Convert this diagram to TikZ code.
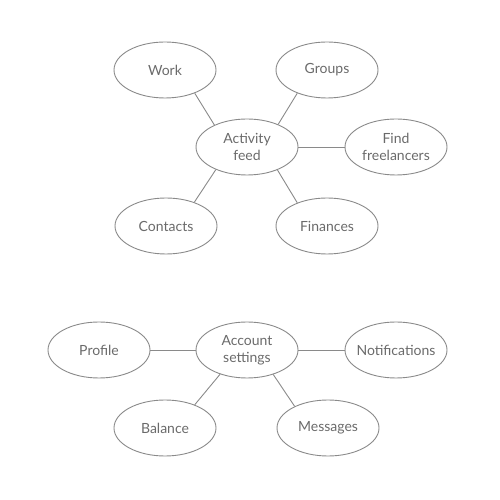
\documentclass[tikz,border=0pt]{standalone}
\usepackage{fontspec}
\setmainfont{Lato}
\usetikzlibrary{shapes.geometric}
\definecolor{edgegray}{HTML}{8A8A8A}
\definecolor{textgray}{HTML}{6A6A6A}
\tikzset{
    bubble/.style={ellipse, draw=edgegray, line width=0.9pt, minimum width=102pt,
        minimum height=56pt, inner xsep=-5pt, inner ysep=0pt, align=center,
        text=textgray, font=\fontsize{14}{17}\selectfont},
    link/.style={draw=edgegray, line width=0.9pt}
}
\begin{document}
\begin{tikzpicture}[x=1pt,y=1pt]
    \useasboundingbox (0,0) rectangle (500,500);

    \node[bubble] (work) at (165,430) {Work};
    \node[bubble] (groups) at (327,430) {Groups};
    \node[bubble] (feed) at (247,353) {Activity\\feed};
    \node[bubble] (find) at (396,353) {Find\\freelancers};
    \node[bubble] (contacts) at (166,274) {Contacts};
    \node[bubble] (finances) at (327,274) {Finances};

    \node[bubble] (profile) at (99,150) {Profile};
    \node[bubble] (account) at (247,150) {Account\\settings};
    \node[bubble] (notify) at (396,150) {Notifications};
    \node[bubble] (balance) at (165,72) {Balance};
    \node[bubble] (messages) at (328,72) {Messages};

    \draw[link] (work.-38) -- (feed.146);
    \draw[link] (groups.-142) -- (feed.36);
    \draw[link] (feed.east) -- (find.west);
    \draw[link] (feed.216) -- (contacts.40);
    \draw[link] (feed.-37) -- (finances.142);

    \draw[link] (profile.east) -- (account.west);
    \draw[link] (account.east) -- (notify.west);
    \draw[link] (account.222) -- (balance.38);
    \draw[link] (account.-43) -- (messages.147);
\end{tikzpicture}
\end{document}
